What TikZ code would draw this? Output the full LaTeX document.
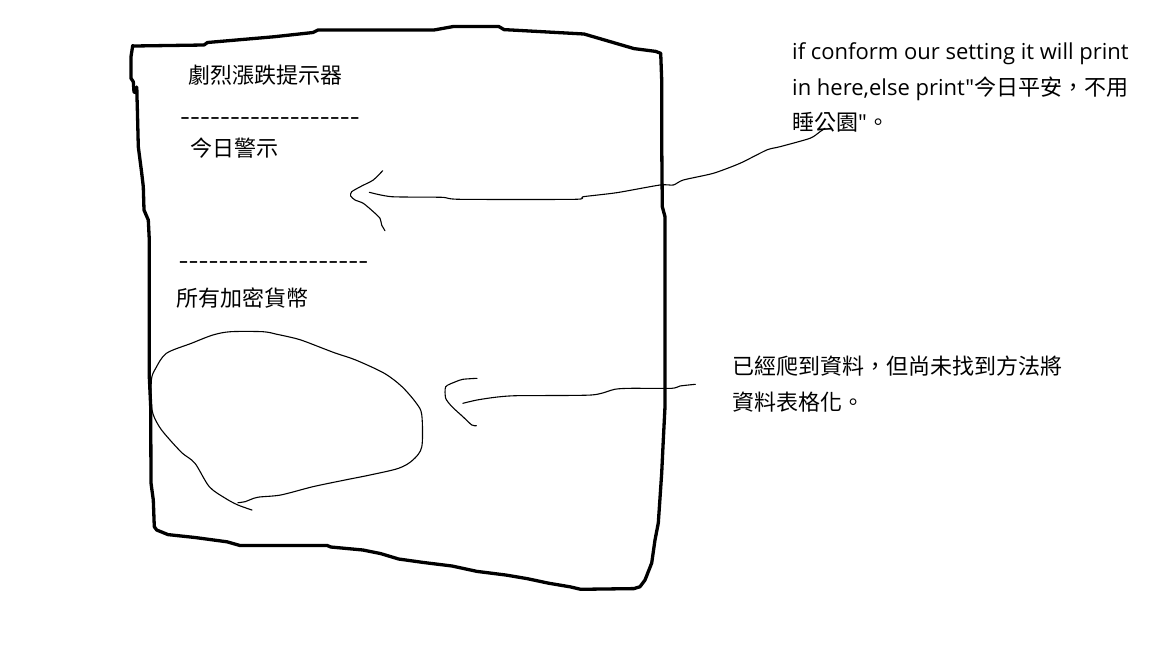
\documentclass[tikz,border=0pt]{standalone}
\usepackage{fontspec}
\usepackage{graphicx}
\newfontfamily\cjk{Noto Sans CJK TC}
\newfontfamily\lat{Open Sans}
\newfontfamily\dashf{DejaVu Sans}
\newcommand\dashrun[1]{\foreach \i in {1,...,#1}{-\kern0pt}}
\begin{document}
\begin{tikzpicture}[x=1pt,y=-1pt,
  boxline/.style={line width=3.3pt, line join=round, line cap=round},
  thinline/.style={line width=1.1pt, line join=round, line cap=round},
  txt/.style={anchor=base west, inner sep=0pt, font=\fontsize{22}{26}\selectfont},
  sep/.style={anchor=base west, inner sep=0pt, font=\dashf\fontsize{22}{26}\selectfont}]
\useasboundingbox (0,0) rectangle (1152,648);
\fill[white] (0,0) rectangle (1152,648);

% hand-drawn frame
\draw[boxline] (132.7,45.7) -- (134,46) -- (204,45) -- (207.5,42.5) -- (273.6,36.8) -- (313,32.5) -- (318,30) -- (434,30) -- (454,26.4) -- (498.6,26.4) -- (504,29.6) -- (584,34) -- (634,48.6) -- (655.7,51.4) -- (660.7,53.3) -- (661.7,80) -- (661.7,140) -- (662.3,206.7) -- (665,216.7) -- (665,406.7) -- (663.3,440) -- (661.7,473) -- (658.3,523) -- (655,540) -- (651.7,563) -- (645,580) -- (640,586.7) -- (634,588.6) -- (580.7,589.3) -- (570,586.8) -- (548.6,583.2) -- (527,578.6) -- (505.7,575) -- (477,571.4) -- (452,566) -- (423.6,562.5) -- (398.6,559) -- (380.7,553.6) -- (362.9,550) -- (330.7,547) -- (327,545.4) -- (239.6,545.4) -- (227,541.8) -- (195,537.5) -- (168,534.6) -- (156.7,530) -- (154.3,526.7) -- (153.3,500) -- (151,483) -- (150.7,406.7) -- (149.3,376.7) -- (149.3,240) -- (148.3,220) -- (144,210) -- (143.3,186.7) -- (141.7,173) -- (138.3,146.7) -- (137.3,106.7) -- (136.7,87) -- (137,93) -- (134,92) -- (133.3,81.7) -- (131,78.3) -- (131,56.7) -- cycle;

% texts inside frame
\node[txt] (title) at (188,83.5) {\cjk 劇烈漲跌提示器};
\node[sep] (sep1) at (180,124.3) {\scalebox{1.256}[1]{\dashrun{18}}};
\node[txt] (today) at (190,156.8) {\cjk 今日警示};
\node[sep] (sep2) at (178.5,268.3) {\scalebox{1.256}[1]{\dashrun{19}}};
\node[txt] (allcoins) at (176.5,306.8) {\cjk 所有加密貨幣};

% notes
\node[txt] (note1a) at (792,59.3) {\lat if conform our setting it will print};
\node[txt] (note1b) at (792,95) {\lat in here,else print"\cjk 今日平安，不用};
\node[txt] (note1c) at (792,130.7) {\cjk 睡公園\lat"\cjk 。};
\node[txt] (note2a) at (732,374.5) {\cjk 已經爬到資料，但尚未找到方法將};
\node[txt] (note2b) at (732,410.2) {\cjk 資料表格化。};

% blob
\draw[thinline] plot[smooth, tension=0.5] coordinates {(252,510) (237.9,505) (225.4,498.3) (209.3,486.7) (195,463.3) (182.5,453.3) (170,440) (159.3,426.7) (152,410) (151.4,380) (155.7,368.3) (166.4,353.3) (191.4,343.3) (212.9,335) (230.7,331.7) (262.9,331.7) (277,334.3) (295,338.3) (305.7,341.7) (334.3,352.7) (355.7,360) (384.3,373.3) (402,386.7) (416.4,403.3) (421.8,415) (421.8,446.7) (412.9,460) (398.6,468.3) (370,475) (345,480) (312.9,486.7) (280.7,495) (257.5,497.3) (245,501.7) (237.9,502.7)};

% arrow 1
\coordinate (a1s) at (825,128.3);
\coordinate (a1e) at (369.3,192.3);
\draw[thinline] plot[smooth, tension=0.4] coordinates {(a1s) (820,131.7) (810,138.3) (780,146.7) (766.7,150) (740,163.3) (713.3,173.3) (683.3,180) (673.3,185) (660,185) (616.7,192.7) (583.3,196.7) (575,199.3) (460,199.3) (441.7,197.3) (391.7,196.7) (a1e)};
\draw[thinline] plot[smooth, tension=0.4] coordinates {(382.7,170.7) (373.3,180) (361.7,186) (351.7,191.7) (350.7,196) (355,200) (363.3,203.3) (373.3,211.7) (380,218.3) (381.7,225) (385,230.7)};

% arrow 2
\coordinate (a2s) at (695.4,384.3);
\coordinate (a2e) at (462.9,403.3);
\draw[thinline] plot[smooth, tension=0.4] coordinates {(a2s) (680,386) (671.8,388.3) (630.7,388.3) (614.6,389.3) (591.4,395) (516.4,395.7) (495,397.3) (477,400) (a2e)};
\draw[thinline] plot[smooth, tension=0.4] coordinates {(477,378.3) (462.9,379.3) (455.7,381.7) (445.7,386.7) (445.7,398.3) (452,406.7) (462.9,416.7) (471.8,425) (476.4,425.7)};
\end{tikzpicture}
\end{document}
